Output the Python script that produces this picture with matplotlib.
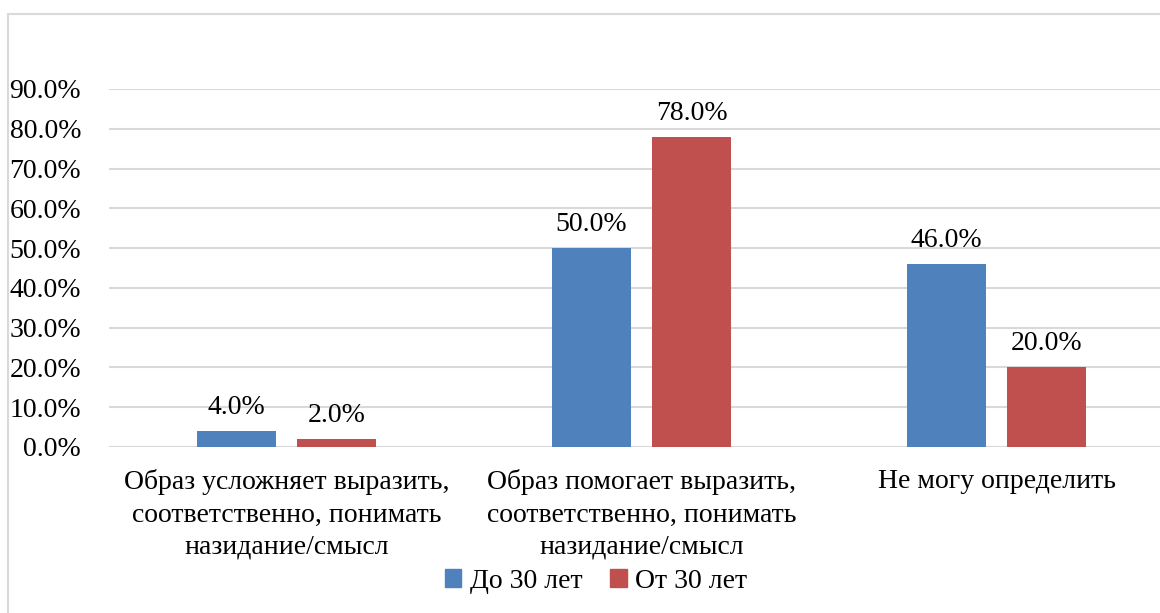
import matplotlib
matplotlib.use("Agg")
import matplotlib.pyplot as plt
from matplotlib.patches import Rectangle
import numpy as np

categories = ["Образ усложняет выразить,\nсоответственно, понимать\nназидание/смысл",
              "Образ помогает выразить,\nсоответственно, понимать\nназидание/смысл",
              "Не могу определить"]
series_names = ["До 30 лет", "От 30 лет"]
under30 = [4.0, 50.0, 46.0]
over30 = [2.0, 78.0, 20.0]
yticks = [0, 10, 20, 30, 40, 50, 60, 70, 80, 90]
colors = ["#4F81BD", "#C0504D"]

plt.rcParams['font.family'] = ['Liberation Serif', 'DejaVu Serif']
FS = 20

W, H = 1160, 613
fig = plt.figure(figsize=(W / 100, H / 100), dpi=100)
# chart border
fig.patches.append(Rectangle((8 / W, -0.01), 1.1, (H - 14) / H + 0.01, transform=fig.transFigure,
                             fill=False, edgecolor="#D9D9D9", linewidth=1.5))

ax = fig.add_axes([109 / W, (H - 447) / H, 1065 / W, 358 / H])
x = np.arange(len(categories))
bw = 0.2225
off = 0.142
for vals, dx, c, name in [(under30, -off, colors[0], series_names[0]), (over30, off, colors[1], series_names[1])]:
    bars = ax.bar(x + dx, vals, width=bw, color=c, label=name, zorder=3)
    for b, v in zip(bars, vals):
        ax.annotate(f"{v:.1f}%", (b.get_x() + b.get_width() / 2, v), xytext=(0, 8),
                    textcoords="offset points", ha="center", va="bottom", fontsize=FS, color="#000000")

ax.set_xlim(-0.5, 2.5)
ax.set_ylim(0, 90)
ax.set_yticks(yticks)
ax.set_yticklabels([f"{t:.1f}%" for t in yticks], fontsize=FS)
ax.yaxis.grid(True, color="#D9D9D9", linewidth=1.5, zorder=0)
ax.set_xticks(x)
ax.set_xticklabels(categories, fontsize=FS, linespacing=1.38)
ax.tick_params(axis="both", length=0)
ax.tick_params(axis="y", pad=20)
ax.tick_params(axis="x", pad=16)
for s in ax.spines.values():
    s.set_visible(False)
ax.axhline(0, color="#D9D9D9", linewidth=1.5, zorder=2)

handles = [Rectangle((0, 0), 1, 1, color=c) for c in colors]
fig.legend(handles, series_names, loc="center", bbox_to_anchor=(596 / W, 1 - 581 / H),
           ncol=2, frameon=False, fontsize=FS, handlelength=0.6, handleheight=0.6,
           handletextpad=0.3, columnspacing=1.0)

fig.savefig("out.png", dpi=100)
